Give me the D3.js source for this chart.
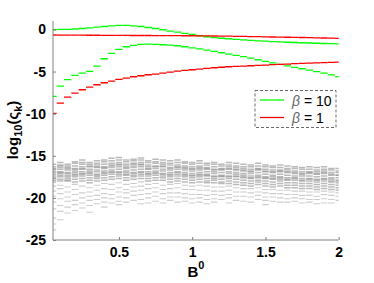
<!DOCTYPE html>
<html><head><meta charset="utf-8">
<script src="https://cdn.jsdelivr.net/npm/d3@7"></script>
<style>body{margin:0;background:#fff}svg{display:block}</style>
</head><body>
<script>
const B = [0.05,0.1,0.15,0.2,0.25,0.3,0.35,0.4,0.45,0.5,0.55,0.6,0.65,0.7,0.75,0.8,0.85,0.9,0.95,1.0,
  1.05,1.1,1.15,1.2,1.25,1.3,1.35,1.4,1.45,1.5,1.55,1.6,1.65,1.7,1.75,1.8,1.85,1.9,1.95,2.0];
const greenTop = [-0.04,0.0,0.0,0.05,0.11,0.19,0.27,0.35,0.43,0.47,0.47,0.43,0.35,0.23,0.11,-0.04,-0.2,-0.32,-0.48,-0.6,
  -0.75,-0.87,-0.97,-1.05,-1.11,-1.19,-1.25,-1.3,-1.35,-1.4,-1.44,-1.48,-1.52,-1.55,-1.58,-1.61,-1.64,-1.67,-1.69,-1.72];
const greenLow = [-7.95,-6.73,-5.97,-5.46,-5.18,-4.99,-4.35,-3.48,-2.85,-2.38,-2.06,-1.9,-1.78,-1.74,-1.78,-1.82,-1.86,-1.94,-2.06,-2.18,
  -2.3,-2.46,-2.61,-2.77,-2.93,-3.09,-3.22,-3.4,-3.6,-3.8,-3.98,-4.15,-4.33,-4.5,-4.67,-4.84,-5.02,-5.2,-5.4,-5.6];
const redTop = [-0.66,-0.67,-0.67,-0.68,-0.68,-0.69,-0.69,-0.70,-0.70,-0.71,-0.71,-0.72,-0.72,-0.72,-0.73,-0.73,-0.74,-0.74,-0.75,-0.75,
  -0.76,-0.77,-0.78,-0.79,-0.8,-0.82,-0.83,-0.85,-0.86,-0.88,-0.9,-0.91,-0.93,-0.95,-0.96,-0.98,-1.0,-1.02,-1.04,-1.06];
const redLow = [-9.97,-8.74,-8.03,-7.56,-7.16,-6.84,-6.57,-6.33,-6.13,-5.93,-5.78,-5.62,-5.5,-5.38,-5.3,-5.18,-5.07,-4.95,-4.87,-4.79,
  -4.71,-4.63,-4.55,-4.49,-4.43,-4.39,-4.35,-4.31,-4.27,-4.23,-4.19,-4.15,-4.11,-4.07,-4.04,-4.01,-3.98,-3.95,-3.92,-3.89];
const noiseDense = [
 [-16.0,-16.3,-16.5,-16.8,-17.0,-17.2,-17.4,-17.6,-17.9,-18.1,-16.6,-17.7],
 [-15.8,-16.1,-16.4,-16.6,-16.9,-17.1,-17.3,-17.5,-17.8,-18.0,-16.2,-17.0],
 [-16.0,-16.2,-16.5,-16.7,-17.0,-17.3,-17.5,-17.7,-18.0,-16.4,-17.1,-17.9],
 [-15.7,-15.9,-16.2,-16.5,-16.8,-17.0,-17.2,-17.5,-17.8,-18.1,-16.6,-17.3],
 [-15.5,-15.8,-16.0,-16.3,-16.6,-16.9,-17.1,-17.4,-17.7,-18.0,-16.5,-17.2],
 [-15.8,-16.0,-16.3,-16.6,-16.8,-17.1,-17.3,-17.6,-17.9,-16.2,-17.0,-18.2],
 [-15.6,-15.9,-16.1,-16.4,-16.7,-16.9,-17.2,-17.5,-17.7,-18.0,-16.3,-17.3],
 [-15.5,-15.7,-16.0,-16.3,-16.5,-16.8,-17.1,-17.3,-17.6,-17.9,-16.4,-17.0],
 [-15.3,-15.6,-15.9,-16.1,-16.4,-16.7,-17.0,-17.2,-17.5,-17.8,-16.2,-16.9],
 [-15.2,-15.5,-15.8,-16.0,-16.3,-16.6,-16.9,-17.2,-17.4,-17.7,-16.1,-17.0],
 [-15.5,-15.7,-16.0,-16.2,-16.5,-16.8,-17.0,-17.3,-17.6,-17.9,-16.4,-17.2],
 [-15.4,-15.6,-15.9,-16.2,-16.4,-16.7,-17.0,-17.3,-17.5,-17.8,-16.0,-17.1],
 [-15.25,-15.5,-15.8,-16.1,-16.3,-16.6,-16.9,-17.2,-17.4,-17.7,-16.0,-17.0],
 [-15.6,-15.8,-16.1,-16.3,-16.6,-16.9,-17.1,-17.4,-17.7,-18.0,-16.5,-17.2],
 [-15.4,-15.7,-15.9,-16.2,-16.5,-16.8,-17.0,-17.3,-17.6,-17.9,-16.3,-17.1],
 [-15.5,-15.8,-16.0,-16.3,-16.6,-16.8,-17.1,-17.4,-17.6,-17.9,-16.2,-17.2],
 [-15.6,-15.9,-16.1,-16.4,-16.7,-17.0,-17.2,-17.5,-17.8,-18.1,-16.5,-17.3],
 [-15.5,-15.8,-16.1,-16.3,-16.6,-16.9,-17.2,-17.4,-17.7,-18.0,-16.4,-17.0],
 [-15.7,-15.9,-16.2,-16.5,-16.7,-17.0,-17.3,-17.5,-17.8,-18.1,-16.4,-17.2],
 [-15.8,-16.0,-16.3,-16.5,-16.8,-17.1,-17.3,-17.6,-17.9,-18.2,-16.6,-17.4],
 [-15.6,-15.9,-16.2,-16.4,-16.7,-17.0,-17.3,-17.5,-17.8,-18.1,-16.5,-17.2],
 [-15.9,-16.1,-16.4,-16.6,-16.9,-17.2,-17.4,-17.7,-18.0,-18.2,-16.5,-17.3],
 [-15.8,-16.0,-16.3,-16.6,-16.9,-17.1,-17.4,-17.7,-17.9,-18.2,-16.7,-17.5],
 [-16.0,-16.2,-16.5,-16.7,-17.0,-17.3,-17.5,-17.8,-18.1,-18.3,-16.6,-17.4],
 [-15.8,-16.1,-16.3,-16.6,-16.9,-17.1,-17.4,-17.7,-18.0,-18.3,-16.5,-17.5],
 [-15.9,-16.2,-16.4,-16.7,-17.0,-17.2,-17.5,-17.8,-18.1,-18.4,-16.6,-17.4],
 [-16.0,-16.3,-16.5,-16.8,-17.1,-17.3,-17.6,-17.9,-18.2,-18.5,-16.7,-17.5],
 [-16.1,-16.3,-16.6,-16.9,-17.1,-17.4,-17.7,-18.0,-18.3,-18.6,-16.8,-17.6],
 [-15.9,-16.2,-16.5,-16.7,-17.0,-17.3,-17.6,-17.9,-18.1,-18.4,-16.6,-17.5],
 [-16.1,-16.3,-16.6,-16.9,-17.2,-17.5,-17.7,-18.0,-18.3,-18.6,-16.8,-17.6],
 [-16.2,-16.4,-16.7,-17.0,-17.3,-17.5,-17.8,-18.1,-18.4,-18.7,-16.9,-17.7],
 [-16.1,-16.4,-16.7,-16.9,-17.2,-17.5,-17.8,-18.0,-18.3,-18.6,-16.8,-17.6],
 [-16.2,-16.5,-16.7,-17.0,-17.3,-17.6,-17.9,-18.2,-18.5,-18.8,-16.9,-17.8],
 [-16.3,-16.5,-16.8,-17.1,-17.4,-17.6,-17.9,-18.2,-18.5,-18.8,-17.0,-17.7],
 [-16.4,-16.6,-16.9,-17.2,-17.4,-17.7,-18.0,-18.3,-18.6,-18.9,-17.1,-17.9],
 [-16.3,-16.6,-16.9,-17.1,-17.4,-17.7,-18.0,-18.3,-18.6,-18.9,-17.0,-17.8],
 [-16.4,-16.7,-16.9,-17.2,-17.5,-17.8,-18.1,-18.4,-18.7,-19.0,-17.1,-17.9],
 [-16.3,-16.6,-16.8,-17.1,-17.4,-17.7,-18.0,-18.3,-18.6,-18.9,-17.0,-17.8],
 [-16.5,-16.7,-17.0,-17.3,-17.6,-17.8,-18.1,-18.4,-18.7,-19.0,-17.2,-18.0],
 [-16.5,-16.8,-17.0,-17.3,-17.6,-17.9,-18.2,-18.5,-18.8,-19.1,-17.3,-18.0]
];
const noiseSparse = [
 [-18.6,-19.2,-19.8,-20.5,-21.3,-22.4,-23.1,-23.8],
 [-18.5,-18.9,-19.5,-20.1,-20.9,-21.6,-22.6],
 [-18.7,-19.3,-19.9,-20.4,-21.1,-21.8],
 [-18.4,-19.0,-19.6,-20.3,-20.8,-21.5],
 [-18.6,-19.4,-20.0,-20.6,-21.2],
 [-18.8,-19.3,-19.8,-20.3,-20.9,-21.7],
 [-18.5,-19.1,-19.7,-20.2,-20.7],
 [-18.3,-18.9,-19.5,-20.0,-20.5,-21.1],
 [-18.4,-19.0,-19.6,-20.1,-20.6],
 [-18.2,-18.8,-19.3,-19.9,-20.4,-20.8],
 [-18.4,-19.0,-19.4,-20.0,-20.5],
 [-18.3,-18.7,-19.2,-19.7,-20.3],
 [-18.1,-18.6,-19.1,-19.6,-20.2,-20.7],
 [-18.4,-18.9,-19.5,-20.0,-20.6],
 [-18.3,-18.8,-19.3,-19.8,-20.4],
 [-18.5,-19.0,-19.5,-20.1,-20.6],
 [-18.4,-18.9,-19.4,-19.9,-20.3],
 [-18.3,-18.8,-19.4,-19.9,-20.5],
 [-18.5,-19.0,-19.5,-20.0,-20.4],
 [-18.6,-19.0,-19.6,-20.1,-20.6],
 [-18.5,-19.1,-19.6,-20.0,-20.5],
 [-18.6,-19.1,-19.7,-20.2,-20.7],
 [-18.7,-19.2,-19.6,-20.1,-20.5],
 [-18.7,-19.2,-19.7,-20.2],
 [-18.6,-19.1,-19.6,-20.0,-20.6],
 [-18.8,-19.3,-19.8,-20.3],
 [-18.9,-19.3,-19.8,-20.4],
 [-18.9,-19.4,-19.9,-20.5],
 [-18.8,-19.3,-19.7,-20.2],
 [-19.0,-19.4,-19.9,-20.3,-20.8],
 [-19.0,-19.5,-19.9,-20.4],
 [-19.1,-19.5,-20.0,-20.5],
 [-19.1,-19.6,-20.1,-20.5],
 [-19.2,-19.6,-20.0,-20.4],
 [-19.2,-19.7,-20.1,-20.6],
 [-19.3,-19.7,-20.2,-20.5],
 [-19.3,-19.8,-20.2,-20.7],
 [-19.2,-19.6,-20.1,-20.6],
 [-19.3,-19.7,-20.2,-20.6],
 [-19.4,-19.8,-20.3]
];
const xTicks = [0.5, 1, 1.5, 2];
const yTicks = [0, -5, -10, -15, -20, -25];
const legendLabels = ["10", "1"];

const W = 374, H = 283;
const font = "'Liberation Sans', Arial, Helvetica, sans-serif";
const svg = d3.select("body").append("svg").attr("width", W).attr("height", H);
const x = d3.scaleLinear().domain([0.05, 2]).range([53, 338.7]);
const y = d3.scaleLinear().domain([-25, 1]).range([240, 21]);
const half = 0.025;

svg.append("clipPath").attr("id", "clip").append("rect")
  .attr("x", x(0.05)).attr("y", y(1)).attr("width", x(2) - x(0.05)).attr("height", y(-25) - y(1));
const plot = svg.append("g").attr("clip-path", "url(#clip)");

function segs(vals, color, sw) {
  plot.append("g").selectAll("line").data(vals.map((v, i) => [B[i], v])).join("line")
    .attr("x1", d => x(d[0] - half)).attr("x2", d => x(d[0] + half))
    .attr("y1", d => y(d[1])).attr("y2", d => y(d[1]))
    .attr("stroke", color).attr("stroke-width", sw);
}
const sparsePts = [], densePts = [];
noiseSparse.forEach((arr, i) => arr.forEach(v => sparsePts.push([B[i], v])));
noiseDense.forEach((arr, i) => arr.forEach(v => densePts.push([B[i], v])));
function grayPts(pts, color, sw, op) {
  plot.append("g").selectAll("line").data(pts).join("line")
    .attr("x1", d => x(d[0] - half) + 0.4).attr("x2", d => x(d[0] + half) - 0.4)
    .attr("y1", d => y(d[1])).attr("y2", d => y(d[1]))
    .attr("stroke", color).attr("stroke-width", sw).attr("stroke-opacity", op);
}
grayPts(sparsePts, "#b8b8b8", 1.1, 0.7);
grayPts(densePts, "#8c8c8c", 1.5, 0.6);

segs(greenTop, "#00ff00", 1.3);
segs(greenLow, "#00ff00", 1.3);
segs(redTop, "#ff0000", 1.3);
segs(redLow, "#ff0000", 1.3);

// axes
const axisColor = "#808080";
const gx = svg.append("g").attr("transform", `translate(0,${y(-25)})`)
  .call(d3.axisBottom(x).tickValues(xTicks).tickSize(-3).tickPadding(7).tickFormat(d3.format("")));
const gy = svg.append("g").attr("transform", `translate(${x(0.05)},0)`)
  .call(d3.axisLeft(y).tickValues(yTicks).tickSize(-3).tickPadding(7).tickFormat(d3.format("")));
[gx, gy].forEach(g => {
  g.selectAll(".tick line").attr("stroke", axisColor);
  g.selectAll(".tick text").attr("fill", "#000").attr("font-family", font)
    .attr("font-weight", "bold").attr("font-size", 14);
  g.select(".domain").remove();
});
svg.append("line").attr("x1", x(0.05)).attr("x2", x(2)).attr("y1", y(-25)).attr("y2", y(-25))
  .attr("stroke", axisColor);
svg.append("line").attr("x1", x(0.05)).attr("x2", x(0.05)).attr("y1", y(1)).attr("y2", y(-25))
  .attr("stroke", axisColor);
gy.selectAll(".tick text").text(d => d === 0 ? "0" : "-" + Math.abs(d));

// x label
const xl = svg.append("text").attr("x", 196).attr("y", 277).attr("text-anchor", "middle")
  .attr("font-family", font).attr("font-weight", "bold").attr("font-size", 15);
xl.append("tspan").text("B");
xl.append("tspan").attr("font-size", 11).attr("dy", -8).text("0");

// y label
const yl = svg.append("text").attr("transform", `translate(18,130) rotate(-90)`)
  .attr("text-anchor", "middle").attr("font-family", font).attr("font-weight", "bold").attr("font-size", 15);
yl.append("tspan").text("log");
yl.append("tspan").attr("font-size", 11).attr("dy", 4).text("10");
yl.append("tspan").attr("dy", -4).text("(\u03C2");
yl.append("tspan").attr("font-size", 11).attr("dy", 4).text("k");
yl.append("tspan").attr("dy", -4).text(")");

// legend
const lg = svg.append("g");
lg.append("rect").attr("x", 255).attr("y", 90.5).attr("width", 81).attr("height", 37)
  .attr("fill", "#fff").attr("stroke", "#444").attr("stroke-width", 0.8).attr("stroke-dasharray", "3,2");
const lcol = ["#00ff00", "#ff0000"];
legendLabels.forEach((lab, i) => {
  const yy = 100 + i * 17.5;
  lg.append("line").attr("x1", 260).attr("x2", 284).attr("y1", yy).attr("y2", yy)
    .attr("stroke", lcol[i]).attr("stroke-width", 1.3);
  const t = lg.append("text").attr("x", 292).attr("y", yy + 5.5).attr("font-family", font).attr("font-size", 14);
  t.append("tspan").attr("font-style", "italic").attr("fill", "#666").text("\u03B2");
  t.append("tspan").text(" = " + lab);
});
</script>
</body></html>
